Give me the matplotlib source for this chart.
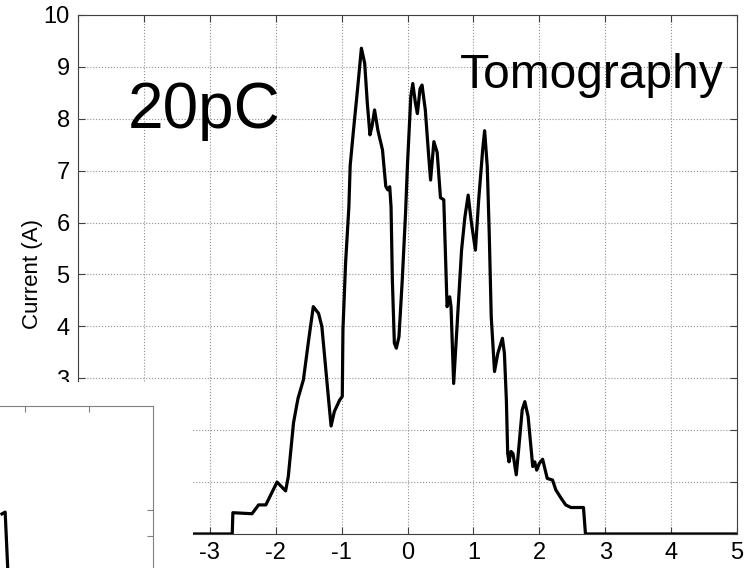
import matplotlib
matplotlib.use("Agg")
import matplotlib.pyplot as plt

plt.rcParams["font.family"] = ["Liberation Sans", "DejaVu Sans"]
plt.rcParams["axes.unicode_minus"] = False

# current profile
pos = [-5, -2.66, -2.65, -2.36, -2.26, -2.15, -1.98, -1.85, -1.81, -1.73, -1.68,
       -1.66, -1.58, -1.50, -1.43, -1.35, -1.30, -1.20, -1.16, -1.11, -1.03, -0.99,
       -0.98, -0.94, -0.89, -0.87, -0.82, -0.76, -0.70, -0.65, -0.61, -0.57, -0.54,
       -0.50, -0.45, -0.38, -0.33, -0.30, -0.27, -0.25, -0.23, -0.20, -0.17, -0.13,
       -0.08, -0.03, 0.00, 0.05, 0.08, 0.12, 0.15, 0.19, 0.22, 0.27, 0.32, 0.35,
       0.40, 0.45, 0.50, 0.55, 0.60, 0.64, 0.66, 0.70, 0.76, 0.82, 0.87, 0.92,
       0.97, 1.03, 1.08, 1.14, 1.17, 1.21, 1.24, 1.27, 1.32, 1.37, 1.44, 1.47,
       1.50, 1.52, 1.54, 1.57, 1.60, 1.65, 1.69, 1.74, 1.78, 1.83, 1.90, 1.93,
       1.96, 2.00, 2.05, 2.12, 2.20, 2.25, 2.33, 2.40, 2.48, 2.67, 2.70, 5]
current = [0, 0, 0.41, 0.39, 0.56, 0.56, 1.00, 0.83, 1.10, 2.14, 2.49,
           2.62, 2.97, 3.74, 4.38, 4.25, 4.00, 2.62, 2.08, 2.36, 2.58, 2.65,
           3.93, 5.22, 6.30, 7.10, 7.78, 8.55, 9.36, 9.07, 8.30, 7.69, 7.85,
           8.17, 7.78, 7.40, 6.70, 6.63, 6.69, 6.30, 4.89, 3.68, 3.58, 3.80,
           4.89, 6.18, 7.14, 8.43, 8.68, 8.30, 8.10, 8.58, 8.65, 8.17, 7.30, 6.82,
           7.56, 7.35, 6.48, 6.44, 4.38, 4.57, 4.38, 2.90, 4.19, 5.47, 6.10, 6.53,
           5.99, 5.47, 6.44, 7.40, 7.77, 7.08, 5.79, 4.19, 3.13, 3.48, 3.77, 3.48,
           2.58, 1.55, 1.39, 1.59, 1.55, 1.14, 1.68, 2.39, 2.55, 2.26, 1.30, 1.39,
           1.23, 1.36, 1.44, 1.07, 1.04, 0.85, 0.69, 0.56, 0.51, 0.51, 0, 0]

xticks = list(range(-5, 6))
yticks = list(range(0, 11))

# bit of the neighbouring panel that pokes into the corner
inset_x = [0.64, 0.69, 0.73]
inset_y = [5.85, 5.92, 3.77]

fig = plt.figure(figsize=(7.53, 5.68), dpi=100)
ax = fig.add_axes([0.1036, 0.0599, 0.8752, 0.9137])
ax.plot(pos, current, color="black", linewidth=2.3)
ax.set_xlim(-5, 5)
ax.set_ylim(0, 10)
ax.set_xticks(xticks)
ax.set_yticks(yticks)
ax.grid(True, linestyle=":", color="#909090", linewidth=0.8)
ax.tick_params(direction="in", top=True, right=True, length=5, labelsize=17,
               color="#404040", pad=6)
for s in ax.spines.values():
    s.set_color("#404040")
ax.set_ylabel("Current (A)", fontsize=16)
ax.yaxis.set_label_coords(-0.053, 0.5)
ax.text(-4.24, 7.82, "20pC", fontsize=46)
ax.text(0.8, 8.59, "Tomography", fontsize=34.5)

# white patch covering the lower-left corner
cover = fig.add_axes([0, 0, 0.2563, 0.3275])
cover.set_facecolor("white")
cover.set_xticks([])
cover.set_yticks([])
for s in cover.spines.values():
    s.set_visible(False)

inset = fig.add_axes([-0.2218, -0.1725, 0.425, 0.4577])
inset.set_facecolor("white")
inset.plot(inset_x, inset_y, color="black", linewidth=2.3)
inset.set_xlim(-2, 3)
inset.set_ylim(0, 10)
inset.set_xticks([1, 2])
inset.set_yticks([5, 6])
inset.tick_params(direction="in", top=True, right=True, bottom=False, left=False,
                  labelbottom=False, labelleft=False, length=4, color="#808080")
for s in inset.spines.values():
    s.set_color("#808080")

fig.savefig("out.png", dpi=100)
